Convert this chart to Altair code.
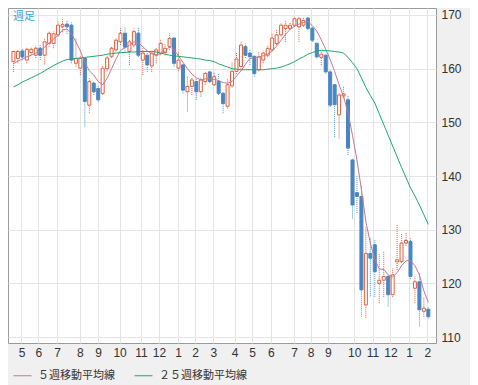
import altair as alt
import pandas as pd

# ---- data (weekly candles) ----
month_labels = ["5", "6", "7", "8", "9", "10", "11", "12", "1", "2", "3",
                "4", "5", "6", "7", "8", "9", "10", "11", "12", "1", "2"]
month_ticks = [1.8, 5.6, 9.8, 14.9, 19.0, 23.8, 28.6, 32.6, 36.9, 40.7, 44.8,
               49.6, 53.5, 57.7, 62.9, 66.6, 70.5, 76.4, 80.5, 84.5, 88.7, 92.8]

opens = [161.3, 161.9, 163.3, 161.6, 163.0, 162.5, 163.8, 162.5, 164.7, 164.7,
         166.3, 167.8, 168.3, 168.1, 161.0, 160.1, 161.9, 153.2, 157.3, 156.3,
         155.4, 160.0, 162.3, 163.5, 165.0, 166.6, 163.2, 164.4, 166.6, 161.6,
         162.5, 160.5, 162.5, 162.9, 163.0, 164.1, 165.7, 160.1, 160.7, 155.7,
         156.7, 157.6, 155.7, 157.6, 159.4, 157.0, 157.6, 155.4, 153.0, 156.8,
         159.5, 160.4, 164.1, 162.9, 162.3, 159.8, 161.6, 162.5, 163.5, 164.7,
         166.3, 167.5, 167.5, 168.1, 167.8, 168.1, 169.4, 167.5, 164.7, 162.1,
         162.5, 159.4, 157.0, 151.4, 154.9, 154.2, 143.0, 136.9, 136.2, 116.0,
         125.6, 127.2, 120.0, 120.6, 121.3, 117.9, 124.0, 124.1, 127.5, 127.8,
         119.1, 120.3, 114.8, 115.2]
highs = [163.5, 163.5, 163.8, 164.0, 164.1, 164.3, 164.5, 165.7, 167.0, 166.9,
         168.8, 169.2, 169.0, 168.6, 165.7, 162.3, 162.2, 158.2, 157.6, 156.7,
         160.7, 162.5, 164.2, 165.7, 167.5, 167.8, 165.5, 167.5, 167.8, 164.1,
         163.2, 163.5, 163.8, 165.3, 164.7, 166.6, 166.0, 163.2, 161.0, 158.5,
         158.4, 158.2, 158.3, 159.4, 159.6, 159.4, 159.1, 155.7, 158.2, 161.3,
         163.0, 165.0, 164.7, 163.5, 162.5, 163.2, 163.3, 164.4, 166.6, 167.2,
         168.4, 169.0, 168.6, 169.7, 169.7, 169.6, 169.7, 167.8, 165.0, 163.2,
         162.8, 159.7, 157.3, 155.4, 156.8, 155.1, 143.3, 139.9, 138.3, 130.6,
         128.5, 128.1, 125.6, 125.9, 121.6, 122.8, 130.9, 129.3, 129.4, 128.4,
         121.3, 121.9, 117.5, 115.6]
lows = [159.4, 161.0, 161.6, 161.0, 162.6, 162.0, 161.6, 160.8, 164.1, 163.8,
        166.0, 166.8, 166.5, 161.0, 160.4, 158.8, 149.2, 151.7, 155.1, 153.9,
        155.1, 159.5, 162.0, 163.2, 164.4, 163.0, 160.7, 164.0, 162.2, 158.8,
        159.4, 159.4, 161.0, 162.5, 162.5, 163.5, 160.4, 159.5, 155.4, 152.0,
        155.1, 154.2, 154.8, 157.0, 157.3, 156.8, 155.1, 151.7, 152.6, 156.5,
        159.0, 160.0, 162.0, 160.7, 158.5, 159.5, 161.0, 162.2, 163.2, 164.4,
        166.0, 165.0, 167.2, 167.8, 165.0, 167.8, 167.2, 165.0, 161.9, 160.7,
        159.1, 152.9, 147.3, 147.0, 154.5, 143.9, 132.1, 133.1, 113.8, 113.5,
        117.6, 117.5, 116.3, 117.5, 115.7, 117.5, 122.5, 123.8, 127.0, 120.8,
        116.3, 112.0, 113.8, 113.5]
closes = [163.2, 163.2, 162.2, 163.6, 163.6, 163.8, 162.5, 165.0, 166.6, 166.5,
          168.1, 168.2, 167.8, 161.6, 161.9, 161.9, 153.9, 157.6, 155.7, 154.2,
          160.1, 162.0, 163.8, 165.3, 166.6, 164.0, 165.0, 166.9, 162.5, 162.9,
          160.7, 162.9, 163.5, 164.7, 163.8, 165.6, 161.0, 161.6, 156.0, 156.7,
          157.9, 155.7, 157.9, 159.1, 157.6, 158.5, 155.4, 153.5, 157.0, 159.5,
          161.8, 164.4, 162.5, 162.2, 159.1, 162.2, 162.9, 163.8, 165.7, 166.3,
          168.1, 168.1, 168.1, 169.3, 169.3, 169.0, 167.5, 165.3, 162.2, 162.7,
          159.4, 153.2, 153.3, 155.1, 155.3, 145.2, 134.6, 136.2, 118.8, 125.6,
          124.7, 122.2, 120.6, 121.3, 117.9, 121.6, 124.4, 127.5, 128.0, 121.3,
          120.3, 115.1, 115.4, 113.8]
ma5 = [160.9, 161.4, 161.8, 162.2, 162.5, 162.9, 163.2, 164.0, 164.8, 165.5,
       166.2, 167.2, 167.4, 166.5, 165.0, 163.3, 161.2, 159.6, 158.8, 157.6,
       157.0, 158.2, 160.0, 161.8, 163.4, 163.9, 164.4, 165.0, 164.8, 164.1,
       163.3, 162.8, 162.6, 162.8, 163.2, 164.1, 163.5, 162.4, 161.2, 160.0,
       159.0, 158.3, 157.9, 158.1, 158.1, 158.0, 157.8, 157.4, 157.3, 157.6,
       158.6, 159.6, 160.8, 161.9, 162.0, 162.2, 162.4, 162.7, 163.3, 164.2,
       165.3, 166.4, 167.3, 167.9, 168.3, 168.6, 168.8, 168.0, 167.0, 165.4,
       163.6, 161.7, 159.5, 157.0, 154.8, 151.8, 147.6, 143.0, 137.5, 131.5,
       127.5, 124.5, 122.7, 122.6, 121.6, 121.2, 122.0, 123.3, 124.2, 124.3,
       123.3, 121.6, 118.6, 116.5]
ma25 = [156.6, 157.0, 157.5, 157.9, 158.3, 158.7, 159.1, 159.6, 160.1, 160.6,
        161.0, 161.4, 161.7, 161.8, 161.9, 162.0, 162.1, 162.2, 162.3, 162.4,
        162.5, 162.7, 162.8, 162.9, 163.0, 163.0, 163.1, 163.1, 163.2, 163.2,
        163.2, 163.2, 163.1, 162.9, 162.7, 162.5, 162.4, 162.3, 162.2, 162.1,
        162.0, 161.9, 161.8, 161.6, 161.5, 161.3, 160.9, 160.6, 160.3, 160.0,
        159.9, 159.8, 159.8, 159.8, 159.8, 159.8, 159.8, 159.9, 160.0, 160.1,
        160.3, 160.6, 160.9, 161.3, 161.8, 162.2, 162.7, 163.0, 163.3, 163.4,
        163.4, 163.3, 163.2, 163.1, 162.9, 162.1, 161.1, 160.0, 158.3, 156.5,
        155.0, 153.6, 151.6, 149.6, 147.6, 145.6, 143.6, 141.6, 139.7, 137.8,
        136.3, 134.6, 132.8, 131.0]

series_names = ["５週移動平均線", "２５週移動平均線"]
series_colors = ["#c07896", "#1fa86a"]

RED = "#e0603c"
BLUE = "#4a86c2"
BLUE_WICK = "#3f9ad6"

n = len(closes)
candles = pd.DataFrame({"week": list(range(n)), "open": opens, "high": highs,
                        "low": lows, "close": closes})
ma = pd.DataFrame({
    "week": list(range(n)) * 2,
    "value": ma5 + ma25,
    "series": [series_names[0]] * n + [series_names[1]] * n,
})

tick_str = ",".join(str(t) for t in month_ticks)
lab_str = ",".join("'" + m + "'" for m in month_labels)
label_expr = "[" + lab_str + "][indexof([" + tick_str + "], datum.value)]"

AXFONT = "Liberation Sans"
x_axis = alt.Axis(values=month_ticks, labelExpr=label_expr, grid=True, ticks=False,
                  domain=False, labelPadding=4, title=None, labelFontSize=12,
                  labelColor="#333333", labelFont=AXFONT, gridColor="#e4e4e4")
y_axis = alt.Axis(values=[110, 120, 130, 140, 150, 160, 170], orient="right", grid=True,
                  ticks=False, domain=False, labelPadding=5, title=None, labelFontSize=12,
                  labelColor="#333333", labelFont=AXFONT, gridColor="#e4e4e4")
xs = alt.Scale(domain=[-0.1, 93.6], nice=False, zero=False)
ys = alt.Scale(domain=[108.9, 171.3], nice=False, zero=False)

up = "datum.close >= datum.open"
base = alt.Chart(candles)

wick = base.mark_rule(strokeWidth=1, strokeDash=[1, 1]).encode(
    x=alt.X("week:Q", scale=xs, axis=x_axis),
    y=alt.Y("low:Q", scale=ys, axis=y_axis),
    y2="high:Q",
    stroke=alt.condition(up, alt.value(RED), alt.value(BLUE_WICK)),
)
body = base.mark_bar(width=3, strokeWidth=1).encode(
    x=alt.X("week:Q", scale=xs, axis=x_axis),
    y=alt.Y("open:Q", scale=ys, axis=y_axis),
    y2="close:Q",
    fill=alt.condition(up, alt.value("white"), alt.value(BLUE)),
    stroke=alt.condition(up, alt.value(RED), alt.value(BLUE)),
)
lines = alt.Chart(ma).mark_line(strokeWidth=1).encode(
    x=alt.X("week:Q", scale=xs, axis=x_axis),
    y=alt.Y("value:Q", scale=ys, axis=y_axis),
    color=alt.Color("series:N", sort=series_names,
                    scale=alt.Scale(domain=series_names, range=series_colors),
                    legend=alt.Legend(orient="none", legendX=5, legendY=358,
                                      direction="horizontal", title=None,
                                      symbolType="stroke", symbolSize=324,
                                      symbolStrokeWidth=1, labelFontSize=11,
                                      labelFont="Noto Sans CJK JP", labelColor="#333333",
                                      columnPadding=17, labelOffset=6, padding=0)),
)
tag = alt.Chart(pd.DataFrame({"t": ["週足"]})).mark_text(
    align="left", baseline="middle", fontSize=11, font="Noto Sans CJK JP", color="#2aa8e0"
).encode(text="t:N", x=alt.value(5), y=alt.value(9))

chart = alt.layer(wick, body, lines, tag).properties(
    width=428, height=335,
    autosize=alt.AutoSizeParams(type="none"),
    padding={"left": 0, "top": 0, "right": 34, "bottom": 42},
).configure(background="#f0f0f0").configure_view(fill="white", stroke="#9a9a9a")

chart.save("out.html", embed_options={"renderer": "svg", "actions": False})
